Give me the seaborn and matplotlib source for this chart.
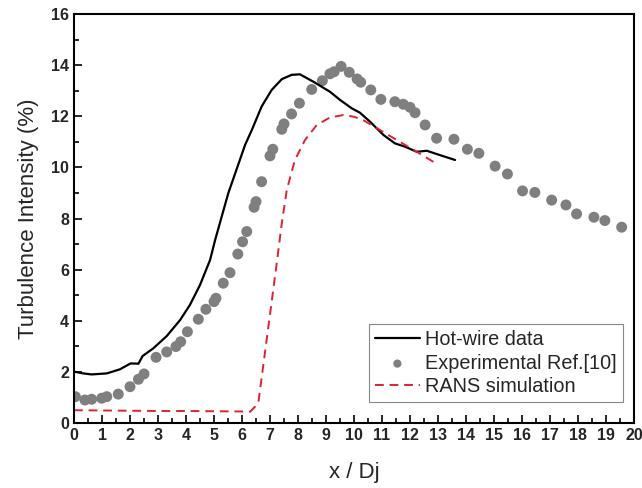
import matplotlib
matplotlib.use('Agg')
import matplotlib.pyplot as plt
from matplotlib.ticker import MultipleLocator
import seaborn as sns

# hot-wire measurement (solid black line)
hw_x = [0.0, 0.33, 0.63, 1.17, 1.64, 2.02, 2.30, 2.45, 2.83, 3.31, 3.79, 4.14, 4.50,
        4.86, 5.04, 5.51, 6.11, 6.35, 6.70, 7.06, 7.42, 7.77, 8.07, 8.55, 9.14, 9.50,
        9.92, 10.21, 10.57, 11.05, 11.46, 11.82, 12.24, 12.60, 13.07, 13.61]
hw_y = [2.01, 1.94, 1.90, 1.94, 2.10, 2.33, 2.32, 2.62, 2.92, 3.40, 4.03, 4.62, 5.40,
        6.38, 7.16, 8.99, 10.88, 11.46, 12.38, 13.03, 13.45, 13.62, 13.64, 13.35, 12.96, 12.64,
        12.31, 12.14, 11.79, 11.27, 10.94, 10.81, 10.61, 10.65, 10.48, 10.29]

# experimental reference (grey dots)
exp_x = [0.05, 0.39, 0.63, 0.99, 1.17, 1.58, 2.00, 2.30, 2.50, 2.93, 3.31, 3.64, 3.81,
         4.05, 4.44, 4.71, 5.00, 5.07, 5.33, 5.57, 5.85, 6.02, 6.17, 6.43, 6.50, 6.70,
         7.00, 7.10, 7.42, 7.50, 7.77, 8.05, 8.49, 8.87, 9.14, 9.29, 9.54, 9.83, 10.11,
         10.24, 10.60, 10.96, 11.46, 11.76, 12.00, 12.18, 12.54, 12.95, 13.57, 14.05,
         14.46, 15.04, 15.48, 16.02, 16.46, 17.06, 17.57, 17.95, 18.57, 18.96, 19.56]
exp_y = [1.03, 0.90, 0.93, 0.97, 1.03, 1.13, 1.42, 1.71, 1.92, 2.57, 2.78, 2.99, 3.18,
         3.57, 4.06, 4.45, 4.75, 4.88, 5.47, 5.88, 6.61, 7.09, 7.49, 8.44, 8.66, 9.44,
         10.45, 10.71, 11.49, 11.70, 12.09, 12.51, 13.05, 13.39, 13.66, 13.74, 13.95, 13.72, 13.46,
         13.33, 13.03, 12.66, 12.57, 12.47, 12.35, 12.14, 11.66, 11.14, 11.10, 10.71,
         10.55, 10.05, 9.74, 9.08, 9.02, 8.72, 8.53, 8.18, 8.05, 7.92, 7.66]

# RANS simulation (red dashed)
rans_x = [0.0, 1.0, 2.0, 3.0, 4.0, 5.0, 6.0, 6.29, 6.58, 6.88, 7.24, 7.42, 7.60, 7.89,
          8.25, 8.67, 9.14, 9.62, 10.0, 10.33, 10.93, 11.64, 12.24, 12.89]
rans_y = [0.50, 0.49, 0.48, 0.47, 0.47, 0.46, 0.45, 0.44, 0.77, 3.25, 6.25, 7.81, 9.12, 10.29,
          11.07, 11.66, 11.95, 12.05, 11.98, 11.85, 11.46, 11.00, 10.61, 10.18]

sns.set_style('ticks')
plt.rcParams['font.family'] = ['Liberation Sans', 'DejaVu Sans']

fig = plt.figure(figsize=(6.42, 4.88), dpi=100)
ax = fig.add_axes([0.1153, 0.1332, 0.8722, 0.8381])

sns.lineplot(x=hw_x, y=hw_y, ax=ax, color='black', lw=1.6, sort=False,
             estimator=None, label='Hot-wire data')
sns.scatterplot(x=exp_x, y=exp_y, ax=ax, color='#7f7f7f', s=62, edgecolor='none',
                label='Experimental Ref.[10]', zorder=1)
sns.lineplot(x=rans_x, y=rans_y, ax=ax, color='#dd2233', lw=1.4, sort=False,
             estimator=None, label='RANS simulation', dashes=False)
ax.lines[-1].set_dashes((4.5, 3))

ax.set_xlim(0, 20)
ax.set_ylim(0, 16)
ax.xaxis.set_major_locator(MultipleLocator(1))
ax.xaxis.set_minor_locator(MultipleLocator(0.5))
ax.yaxis.set_major_locator(MultipleLocator(2))
ax.yaxis.set_minor_locator(MultipleLocator(1))
ax.tick_params(which='major', direction='in', length=6, width=1.4, labelsize=11.5)
ax.tick_params(which='minor', direction='in', length=3.5, width=1.4)
for lab in ax.get_xticklabels() + ax.get_yticklabels():
    lab.set_fontweight('bold')
for sp in ax.spines.values():
    sp.set_linewidth(1.5)
    sp.set_color('black')

ax.set_xlabel('x / Dj', fontsize=16, labelpad=14)
ax.set_ylabel('Turbulence Intensity (%)', fontsize=16, labelpad=9)

leg = ax.legend(loc='lower right', bbox_to_anchor=(0.980, 0.051), fontsize=14.3,
                frameon=True, fancybox=False, edgecolor='#888888', framealpha=1,
                borderpad=0.3, labelspacing=0.22, handlelength=2.3, handletextpad=0.25,
                borderaxespad=0.0, markerscale=0.75)
leg.get_frame().set_linewidth(0.8)

fig.savefig('out.png', dpi=100)
